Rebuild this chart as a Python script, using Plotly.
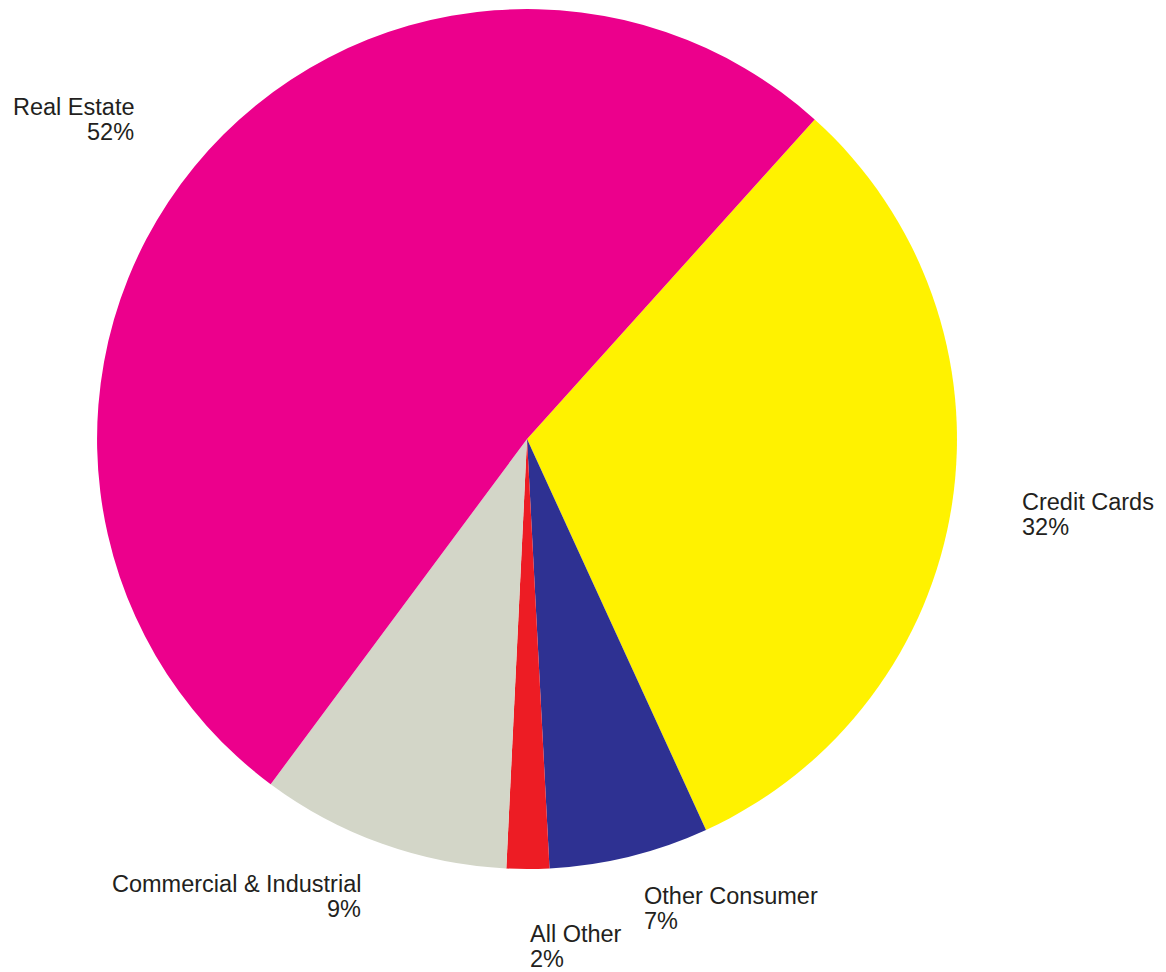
import math
import plotly.graph_objects as go

categories = ["Credit Cards", "Other Consumer", "All Other", "Commercial & Industrial", "Real Estate"]
values = [31.5, 6.0, 1.6, 9.4, 51.5]
pct_labels = ["32%", "7%", "2%", "9%", "52%"]
colors = ["#FFF200", "#2E3192", "#ED1C24", "#D3D6C8", "#EC008C"]

W, H = 1158, 964
ROTATION = 42
DOM_X = [0.0769, 0.8195]
DOM_Y = [0.1068, 0.999]
FONT = dict(family="Liberation Sans, Arial, sans-serif", size=23.5, color="#231F20")
LABEL_R = [1.16, 1.125, 1.18, 1.13, 1.175]   # label distance from centre, in radii
LINE_GAP = 25                                # px between the two label lines

fig = go.Figure(go.Pie(
    labels=categories,
    values=values,
    textinfo="none",
    sort=False,
    direction="clockwise",
    rotation=ROTATION,
    marker=dict(colors=colors, line=dict(width=0)),
    domain=dict(x=DOM_X, y=DOM_Y),
    showlegend=False,
    hoverinfo="label+percent",
))

# label placement derived from the slice mid-angles
cx = (DOM_X[0] + DOM_X[1]) / 2 * W
cy = (1 - (DOM_Y[0] + DOM_Y[1]) / 2) * H
R = min((DOM_X[1] - DOM_X[0]) * W, (DOM_Y[1] - DOM_Y[0]) * H) / 2
total = sum(values)
cum = 0.0
annotations = []
for name, v, pct, lr in zip(categories, values, pct_labels, LABEL_R):
    mid = math.radians(ROTATION + 360 * (cum + v / 2) / total)
    cum += v
    s, c = math.sin(mid), math.cos(mid)
    px = cx + lr * R * s
    py = cy - lr * R * c
    side = "left" if s >= 0 else "right"
    for txt, off in ((name, -LINE_GAP / 2), (pct, LINE_GAP / 2)):
        annotations.append(dict(
            x=px / W, y=1 - (py + off) / H, xref="paper", yref="paper",
            text=txt, showarrow=False,
            xanchor=side, yanchor="middle", align=side, font=FONT,
        ))

fig.update_layout(
    width=W, height=H,
    margin=dict(l=0, r=0, t=0, b=0),
    paper_bgcolor="white",
    plot_bgcolor="white",
    annotations=annotations,
)
fig.write_html("out.html")
